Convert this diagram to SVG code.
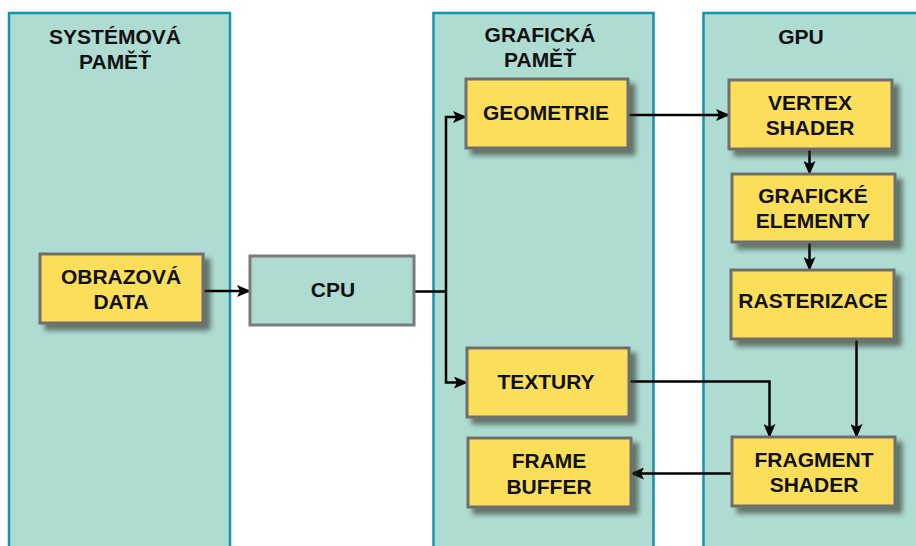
<svg xmlns="http://www.w3.org/2000/svg" width="916" height="546" viewBox="0 0 916 546">
  <defs>
    <filter id="shadow" x="-20%" y="-20%" width="140%" height="150%">
      <feDropShadow dx="6" dy="6" stdDeviation="2.5" flood-color="#2a2a1a" flood-opacity="0.6"/>
    </filter>
    <marker id="arrow" markerUnits="userSpaceOnUse" markerWidth="14" markerHeight="12" refX="13" refY="6" orient="auto">
      <path d="M0,0 L14,6 L0,12 L3,6 z" fill="#000"/>
    </marker>
    <style>
      .panel { fill: #aedcd3; stroke: #1592ae; stroke-width: 2.5; }
      .box { fill: #fbdf5a; stroke: #6e6e6e; stroke-width: 3; filter: url(#shadow); }
      .cpu { fill: #aedcd3; stroke: #7a7a7a; stroke-width: 3; }
      text { font-family: "Liberation Sans", Arial, sans-serif; font-weight: bold; font-size: 21px; fill: #111; text-anchor: middle; }
      .wire { fill: none; stroke: #000; stroke-width: 2.5; }
      .arrow { marker-end: url(#arrow); }
    </style>
  </defs>

  <rect width="916" height="546" fill="#fff"/>

  <!-- memory / processor regions -->
  <g id="panel-system">
    <rect class="panel" x="9" y="13" width="221" height="545"/>
    <text x="115" y="44">SYSTÉMOVÁ</text>
    <text x="115" y="69">PAMĚŤ</text>
  </g>
  <g id="panel-graphics">
    <rect class="panel" x="433.5" y="13" width="220" height="545"/>
    <text x="540" y="42">GRAFICKÁ</text>
    <text x="540" y="67">PAMĚŤ</text>
  </g>
  <g id="panel-gpu">
    <rect class="panel" x="703.5" y="13" width="240" height="545"/>
    <text x="801" y="44">GPU</text>
  </g>

  <!-- connectors -->
  <g id="connectors">
    <path class="wire arrow" d="M203,291 L250,291"/>
    <path class="wire" d="M414,291.5 L446,291.5"/>
    <path class="wire arrow" d="M446,291.5 L446,117 L466,117"/>
    <path class="wire arrow" d="M446,291.5 L446,382.5 L467,382.5"/>
    <path class="wire arrow" d="M628,115 L729,115"/>
    <path class="wire arrow" d="M809.5,149 L809.5,174"/>
    <path class="wire arrow" d="M809.5,242 L809.5,270"/>
    <path class="wire arrow" d="M856.5,339 L856.5,437"/>
    <path class="wire arrow" d="M629,381.5 L769.5,381.5 L769.5,437"/>
    <path class="wire arrow" d="M732,473.5 L631,473.5"/>
  </g>

  <!-- nodes -->
  <g id="node-obrazova-data">
    <rect class="box" x="40" y="254" width="163" height="69"/>
    <text x="121" y="284">OBRAZOVÁ</text>
    <text x="121" y="309">DATA</text>
  </g>
  <g id="node-cpu">
    <rect class="cpu" x="250" y="256" width="164" height="69"/>
    <text x="333" y="297">CPU</text>
  </g>
  <g id="node-geometrie">
    <rect class="box" x="466" y="79" width="162" height="69"/>
    <text x="546" y="120">GEOMETRIE</text>
  </g>
  <g id="node-textury">
    <rect class="box" x="467" y="348" width="162" height="69"/>
    <text x="546" y="389">TEXTURY</text>
  </g>
  <g id="node-frame-buffer">
    <rect class="box" x="468" y="438" width="163" height="69"/>
    <text x="549" y="468">FRAME</text>
    <text x="549" y="494">BUFFER</text>
  </g>
  <g id="node-vertex-shader">
    <rect class="box" x="729" y="80" width="163" height="69"/>
    <text x="810" y="110">VERTEX</text>
    <text x="810" y="135">SHADER</text>
  </g>
  <g id="node-graficke-elementy">
    <rect class="box" x="732" y="174" width="163" height="68"/>
    <text x="813" y="203">GRAFICKÉ</text>
    <text x="813" y="228">ELEMENTY</text>
  </g>
  <g id="node-rasterizace">
    <rect class="box" x="731" y="270" width="163" height="69"/>
    <text x="813" y="308">RASTERIZACE</text>
  </g>
  <g id="node-fragment-shader">
    <rect class="box" x="732" y="437" width="163" height="69"/>
    <text x="814" y="467">FRAGMENT</text>
    <text x="814" y="492">SHADER</text>
  </g>
</svg>
